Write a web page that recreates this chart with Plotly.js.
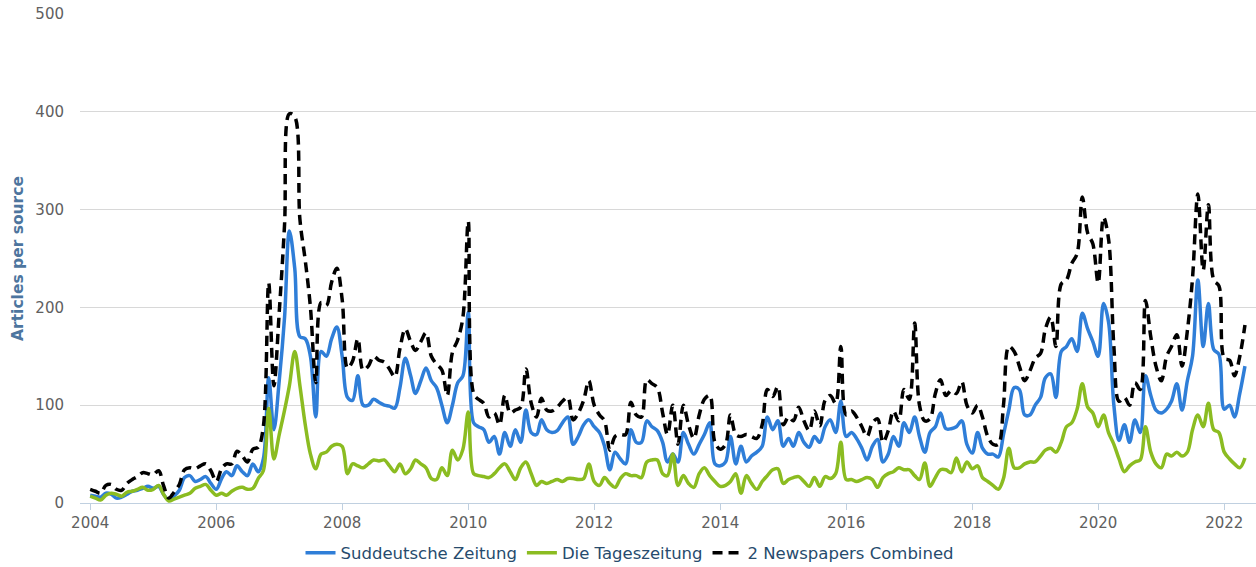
<!DOCTYPE html>
<html>
<head>
<meta charset="utf-8">
<script src="https://cdn.plot.ly/plotly-3.0.1.min.js"></script>
<style>
  html, body { margin: 0; padding: 0; background: #ffffff; }
  #chart { width: 1256px; height: 567px; }
</style>
</head>
<body>
<div id="chart"></div>
<script>
// Monthly series, January 2004 to May 2022
const startYear = 2004;
const seriesNames = ["Suddeutsche Zeitung", "Die Tageszeitung", "2 Newspapers Combined"];

const suddeutsche = [
  8, 7, 6, 10, 9, 5, 6, 9, 12, 13, 15, 17,                 // 2004
  15, 17, 9, 3, 7, 13, 26, 28, 22, 24, 27, 20,             // 2005
  14, 25, 32, 28, 38, 32, 28, 40, 32, 45, 128, 75,         // 2006
  125, 190, 278, 240, 170, 168, 150, 88, 155, 150, 168, 180, // 2007
  150, 108, 105, 130, 100, 100, 106, 103, 100, 99, 97, 118, // 2008
  148, 130, 112, 125, 138, 125, 118, 100, 82, 100, 123, 130, // 2009
  195, 82, 78, 75, 62, 68, 50, 72, 58, 75, 62, 95,         // 2010
  72, 70, 85, 75, 72, 74, 82, 88, 60, 68, 80, 85,          // 2011
  78, 72, 58, 34, 52, 45, 40, 75, 62, 62, 84, 78,          // 2012
  74, 62, 42, 50, 42, 72, 60, 50, 60, 70, 82, 40,          // 2013
  38, 42, 68, 40, 58, 42, 48, 52, 58, 88, 75, 84,          // 2014
  58, 66, 58, 72, 62, 57, 68, 62, 78, 85, 72, 104,         // 2015
  68, 72, 66, 56, 44, 58, 65, 42, 50, 68, 58, 82,          // 2016
  72, 88, 68, 52, 72, 78, 92, 76, 76, 78, 84, 60,          // 2017
  51, 72, 56, 50, 50, 47, 70, 95, 118, 116, 90, 90,        // 2018
  100, 108, 128, 132, 108, 155, 160, 168, 155, 194, 178, 165, // 2019
  150, 204, 185, 100, 64, 80, 62, 85, 72, 130, 110, 95,    // 2020
  92, 96, 104, 122, 95, 125, 150, 228, 160, 204, 157, 152, // 2021
  96, 100, 88, 112, 140                                    // 2022
];

const tageszeitung = [
  7, 5, 3, 8, 10, 9, 7, 11, 12, 14, 16, 13,                // 2004
  14, 18, 9, 2, 4, 6, 8, 10, 15, 17, 19, 13,               // 2005
  8, 10, 8, 12, 15, 16, 14, 15, 25, 33, 97, 45,            // 2006
  70, 95, 120, 155, 120, 80, 50, 35, 50, 52, 58, 60,       // 2007
  58, 30, 40, 38, 36, 40, 44, 43, 44, 38, 32, 40,          // 2008
  30, 35, 44, 40, 36, 25, 24, 36, 28, 54, 44, 55,          // 2009
  93, 30, 28, 27, 26, 30, 36, 40, 32, 24, 36, 42,          // 2010
  30, 18, 22, 20, 22, 24, 22, 25, 25, 24, 25, 40,          // 2011
  22, 18, 26, 20, 16, 25, 30, 28, 28, 26, 42, 44,          // 2012
  44, 30, 28, 50, 18, 28, 20, 16, 30, 36, 28, 22,          // 2013
  17, 18, 22, 30, 10, 28, 20, 14, 22, 28, 34, 35,          // 2014
  20, 24, 26, 27, 22, 17, 26, 17, 27, 25, 30, 62,          // 2015
  24, 24, 22, 24, 26, 24, 16, 26, 30, 32, 36, 34,          // 2016
  34, 28, 24, 41, 17, 26, 34, 34, 31, 46, 32, 42,          // 2017
  35, 38, 26, 22, 18, 14, 25, 56, 36, 36, 40, 42,          // 2018
  42, 48, 54, 56, 52, 62, 78, 82, 96, 122, 98, 92,         // 2019
  78, 90, 72, 60, 45, 32, 38, 42, 44, 78, 52, 40,          // 2020
  36, 50, 48, 52, 48, 52, 75, 90, 78, 102, 75, 72,         // 2021
  52, 45, 40, 36, 46                                       // 2022
];

const combined = [
  14, 12, 10, 18, 19, 14, 13, 20, 24, 27, 31, 30,          // 2004
  29, 33, 18, 5, 11, 19, 34, 36, 35, 38, 40, 33,           // 2005
  22, 35, 40, 40, 53, 48, 42, 55, 57, 78, 225, 120,        // 2006
  195, 285, 398, 395, 290, 248, 200, 123, 205, 202, 226, 240, // 2007
  208, 138, 145, 168, 136, 140, 150, 146, 144, 137, 129, 158, // 2008
  178, 165, 156, 165, 174, 150, 142, 136, 110, 154, 167, 190, // 2009
  288, 112, 106, 102, 88, 92, 80, 110, 92, 95, 98, 137,    // 2010
  102, 88, 107, 95, 94, 98, 104, 108, 85, 92, 105, 125,    // 2011
  100, 90, 84, 54, 68, 70, 70, 103, 90, 88, 126, 122,      // 2012
  118, 92, 70, 100, 60, 100, 80, 66, 90, 106, 110, 62,     // 2013
  55, 60, 90, 70, 68, 70, 68, 66, 80, 116, 109, 119,       // 2014
  80, 88, 84, 98, 84, 74, 94, 79, 105, 110, 102, 160,      // 2015
  90, 94, 88, 78, 68, 82, 86, 62, 74, 94, 84, 116,         // 2016
  106, 184, 100, 84, 86, 112, 126, 110, 115, 112, 124, 100, // 2017
  92, 100, 88, 68, 60, 60, 100, 160, 155, 140, 125, 135,   // 2018
  148, 153, 178, 190, 160, 224, 228, 245, 255, 313, 276, 265, // 2019
  225, 292, 270, 160, 104, 108, 100, 123, 116, 207, 170, 140, // 2020
  125, 150, 160, 172, 140, 176, 230, 316, 238, 305, 228, 222, // 2021
  148, 146, 130, 150, 182                                  // 2022
];

const yTickValues = [0, 100, 200, 300, 400, 500];
const xTickYears = [2004, 2006, 2008, 2010, 2012, 2014, 2016, 2018, 2020, 2022];

function monthDates(n) {
  const out = [];
  for (let i = 0; i < n; i++) {
    const y = startYear + Math.floor(i / 12);
    const m = (i % 12) + 1;
    out.push(y + "-" + (m < 10 ? "0" + m : m) + "-01");
  }
  return out;
}
const dates = monthDates(suddeutsche.length);

const FONT = "DejaVu Sans, Verdana, sans-serif";

const traces = [
  {
    x: dates, y: suddeutsche, name: seriesNames[0], type: "scatter", mode: "lines",
    line: { color: "#2f7ed8", width: 3.5, shape: "spline", smoothing: 1 }
  },
  {
    x: dates, y: tageszeitung, name: seriesNames[1], type: "scatter", mode: "lines",
    line: { color: "#8bbc21", width: 3.5, shape: "spline", smoothing: 1 }
  },
  {
    x: dates, y: combined, name: seriesNames[2], type: "scatter", mode: "lines",
    line: { color: "#000000", width: 3.5, shape: "spline", smoothing: 1, dash: "10px,6px" }
  }
];

const layout = {
  width: 1256, height: 567,
  margin: { l: 80, r: 0, t: 14, b: 64 },
  paper_bgcolor: "#ffffff", plot_bgcolor: "#ffffff",
  font: { family: FONT, size: 15, color: "#606060" },
  showlegend: true,
  hovermode: false,
  xaxis: {
    type: "date",
    range: ["2003-11-03", "2022-07-04"],
    tickvals: xTickYears.map(y => y + "-01-01"),
    ticktext: xTickYears.map(String),
    showgrid: false, zeroline: false,
    showline: true, linecolor: "#c0d0e0", linewidth: 1,
    ticks: "outside", ticklen: 6, tickcolor: "#c0d0e0", tickwidth: 1,
    tickfont: { family: FONT, size: 15, color: "#606060" }
  },
  yaxis: {
    range: [0, 500],
    tickvals: yTickValues,
    showgrid: true, gridcolor: "#d8d8d8", gridwidth: 1,
    zeroline: false, showline: false,
    ticks: "outside", ticklen: 12, tickcolor: "rgba(0,0,0,0)",
    tickfont: { family: FONT, size: 15, color: "#606060" },
    title: { text: "Articles per source", font: { family: FONT, size: 15.5, color: "#4d759e", weight: "bold" }, standoff: 7 }
  },
  legend: {
    orientation: "h",
    xref: "container", yref: "container",
    x: 0.5016, xanchor: "center", y: 0.0247, yanchor: "middle",
    font: { family: FONT, size: 16.5, color: "#274b6d" },
    itemwidth: 30, tracegroupgap: 0, bgcolor: "rgba(0,0,0,0)"
  }
};

Plotly.newPlot("chart", traces, layout, { displayModeBar: false, staticPlot: true });
</script>
</body>
</html>
